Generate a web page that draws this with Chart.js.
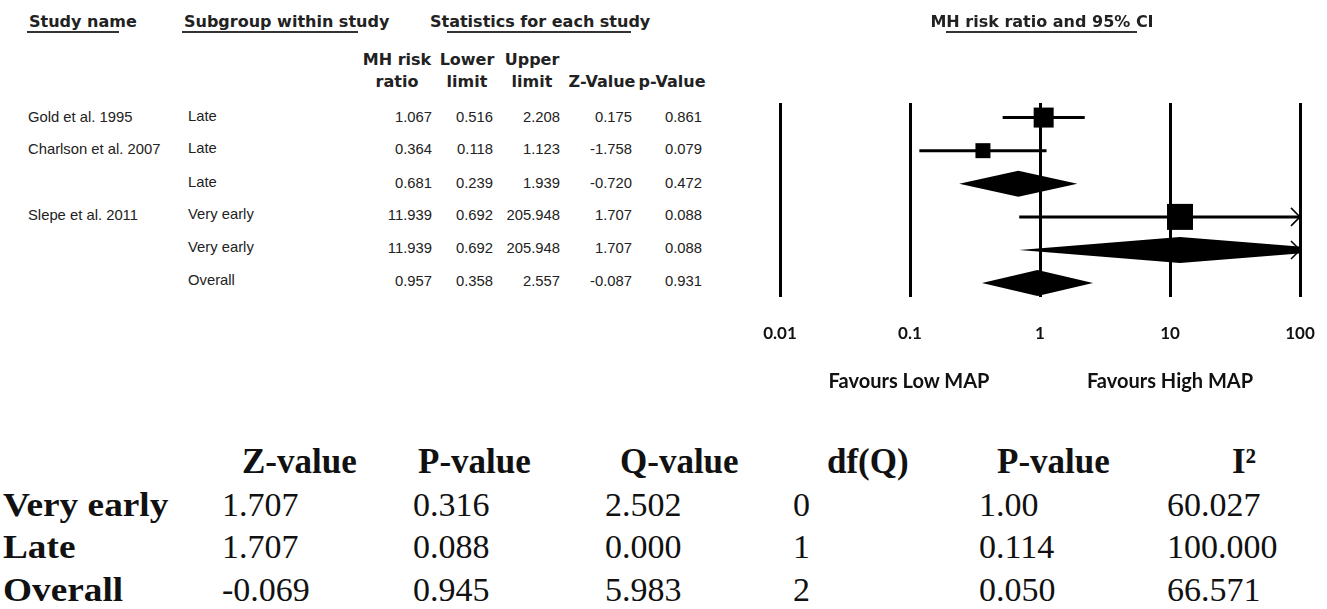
<!DOCTYPE html>
<html lang="en">
	<head>
		<meta charset="UTF-8" />
		<title>MH risk ratio forest plot</title>
		<script src="https://cdn.jsdelivr.net/npm/chart.js@4.4.1/dist/chart.umd.min.js"></script>
		<style>
			html,
			body {
				margin: 0;
				padding: 0;
				background: #fff;
				width: 1327px;
				height: 609px;
				overflow: hidden;
			}
			#page {
				position: relative;
				width: 1327px;
				height: 609px;
			}
			.t {
				position: absolute;
				white-space: nowrap;
				line-height: 1;
				color: #111;
			}
			.hd {
				font: bold 16px "DejaVu Sans", sans-serif;
				color: #222;
			}
			.cell {
				font: 14.8px "Liberation Sans", Arial, sans-serif;
				color: #222;
			}
			.fav {
				font: bold 20px Lato, "Open Sans", sans-serif;
				color: #111;
			}
			.bh {
				font: bold 35px "Liberation Serif", "Times New Roman", serif;
			}
			.bl {
				font: bold 33px "Liberation Serif", "Times New Roman", serif;
			}
			.bv {
				font: 34px "Liberation Serif", "Times New Roman", serif;
			}
			.uline {
				position: absolute;
				height: 2px;
				background: #333;
			}
			#plotBox {
				position: absolute;
				left: 740px;
				top: 0;
				width: 587px;
				height: 420px;
			}
		</style>
	</head>
	<body>
		<div id="page">
			<div id="plotBox"><canvas id="forest"></canvas></div>
		</div>
		<script>
			// study rows (top to bottom)
			const studyNames = ["Gold et al. 1995", "Charlson et al. 2007", "", "Slepe et al. 2011", "", ""];
			const subgroups = ["Late", "Late", "Late", "Very early", "Very early", "Overall"];
			const riskRatio = [1.067, 0.364, 0.681, 11.939, 11.939, 0.957];
			const lowerLimit = [0.516, 0.118, 0.239, 0.692, 0.692, 0.358];
			const upperLimit = [2.208, 1.123, 1.939, 205.948, 205.948, 2.557];
			const zValues = ["0.175", "-1.758", "-0.720", "1.707", "1.707", "-0.087"];
			const pValues = ["0.861", "0.079", "0.472", "0.088", "0.088", "0.931"];
			const isSummary = [false, false, true, false, true, true];
			const axisTicks = [0.01, 0.1, 1, 10, 100];

			// heterogeneity table
			const hetGroups = ["Very early", "Late", "Overall"];
			const hetHeaders = ["Z-value", "P-value", "Q-value", "df(Q)", "P-value", "I²"];
			const hetZ = ["1.707", "1.707", "-0.069"];
			const hetP = ["0.316", "0.088", "0.945"];
			const hetQ = ["2.502", "0.000", "5.983"];
			const hetDf = ["0", "1", "2"];
			const hetPQ = ["1.00", "0.114", "0.050"];
			const hetI2 = ["60.027", "100.000", "66.571"];

			// layout (pixels)
			const boxSide = [20, 15, 0, 26, 0, 0];
			const diamondHalf = 13;
			const tableRowY = [117, 149, 183, 215, 248, 281];
			const colRight = [432, 493, 560, 632, 702];
			const colHeadCenter = [397, 467, 532, 602, 672];
			const hetHeadX = [242, 418, 620, 827, 997, 1232];
			const hetValX = [222, 413, 605, 793, 979, 1167];
			const hetRowY = [505, 547, 590];

			const page = document.getElementById("page");

			function put(text, x, y, cls, align, stretch) {
				const el = document.createElement("div");
				el.className = "t " + cls;
				el.textContent = text;
				el.style.left = x + "px";
				el.style.top = y + "px";
				let tx = "0";
				let origin = "left";
				if (align === "c") {
					tx = "-50%";
					origin = "center";
				}
				if (align === "r") {
					tx = "-100%";
					origin = "right";
				}
				el.style.transformOrigin = origin + " center";
				el.style.transform =
					"translate(" + tx + ", -50%)" + (stretch ? " scaleX(" + stretch + ")" : "");
				page.appendChild(el);
				return el;
			}

			function underline(x1, x2, y) {
				const el = document.createElement("div");
				el.className = "uline";
				el.style.left = x1 + "px";
				el.style.top = y + "px";
				el.style.width = x2 - x1 + "px";
				page.appendChild(el);
			}

			// top headers
			put("Study name", 29, 21, "hd", "l");
			underline(27, 119, 31);
			put("Subgroup within study", 184, 21, "hd", "l");
			underline(182, 358, 31);
			put("Statistics for each study", 430, 21, "hd", "l");
			underline(447, 631, 31);
			put("MH risk ratio and 95% CI", 1042, 21, "hd", "c");
			underline(946, 1137, 31);

			const headTop = ["MH risk", "Lower", "Upper", "", ""];
			const headBottom = ["ratio", "limit", "limit", "Z-Value", "p-Value"];
			headTop.forEach((h, i) => {
				if (h) put(h, colHeadCenter[i], 59, "hd", "c");
				put(headBottom[i], colHeadCenter[i], 81, "hd", "c");
			});

			subgroups.forEach((g, i) => {
				const y = tableRowY[i];
				if (studyNames[i]) put(studyNames[i], 28, y, "cell", "l");
				put(g, 188, y - 1, "cell", "l");
				put(riskRatio[i].toFixed(3), colRight[0], y, "cell", "r");
				put(lowerLimit[i].toFixed(3), colRight[1], y, "cell", "r");
				put(upperLimit[i].toFixed(3), colRight[2], y, "cell", "r");
				put(zValues[i], colRight[3], y, "cell", "r");
				put(pValues[i], colRight[4], y, "cell", "r");
			});

			put("Favours Low MAP", 909, 380, "fav", "c");
			put("Favours High MAP", 1170, 380, "fav", "c");

			// heterogeneity table
			hetHeaders.forEach((h, i) => put(h, hetHeadX[i], 462, "bh", "l"));
			const hetCols = [hetZ, hetP, hetQ, hetDf, hetPQ, hetI2];
			hetGroups.forEach((g, r) => {
				put(g, 3, hetRowY[r], "bl", "l", 1.13);
				hetCols.forEach((col, c) => put(col[r], hetValX[c], hetRowY[r], "bv", "l"));
			});

			// CI whiskers, diamonds and clipping arrows
			const forestMarks = {
				id: "forestMarks",
				beforeDatasetsDraw(chart) {
					const { ctx, chartArea: a, scales } = chart;
					const xs = scales.x;
					const ys = scales.y;
					ctx.save();
					ctx.beginPath();
					ctx.rect(a.left - 2, 0, a.right - a.left + 4, chart.height);
					ctx.clip();
					ctx.fillStyle = "#000";
					ctx.strokeStyle = "#000";
					riskRatio.forEach((rr, i) => {
						const py = ys.getPixelForValue(i + 1);
						const pl = xs.getPixelForValue(lowerLimit[i]);
						const pe = xs.getPixelForValue(rr);
						const ph = xs.getPixelForValue(upperLimit[i]);
						if (isSummary[i]) {
							ctx.beginPath();
							ctx.moveTo(pl, py);
							ctx.lineTo(pe, py - diamondHalf);
							ctx.lineTo(ph, py);
							ctx.lineTo(pe, py + diamondHalf);
							ctx.closePath();
							ctx.fill();
						} else {
							ctx.lineWidth = 3;
							ctx.beginPath();
							ctx.moveTo(pl, py);
							ctx.lineTo(Math.min(ph, a.right), py);
							ctx.stroke();
						}
						if (ph > a.right) {
							ctx.lineWidth = 1.5;
							ctx.beginPath();
							ctx.moveTo(a.right - 9, py - 9);
							ctx.lineTo(a.right, py);
							ctx.lineTo(a.right - 9, py + 9);
							ctx.stroke();
						}
					});
					ctx.restore();
				},
			};

			const boxPoints = [];
			riskRatio.forEach((rr, i) => {
				if (!isSummary[i]) boxPoints.push({ x: rr, y: i + 1, side: boxSide[i] });
			});

			new Chart(document.getElementById("forest"), {
				type: "scatter",
				data: {
					datasets: [
						{
							label: "MH risk ratio",
							data: boxPoints,
							pointStyle: "rect",
							backgroundColor: "#000",
							borderColor: "#000",
							borderWidth: 0,
							pointRadius: (c) => (c.raw ? c.raw.side / Math.SQRT2 : 0),
							pointHoverRadius: (c) => (c.raw ? c.raw.side / Math.SQRT2 : 0),
						},
					],
				},
				options: {
					responsive: true,
					maintainAspectRatio: false,
					animation: false,
					layout: { padding: { left: 40, right: 27, top: 103, bottom: 0 } },
					plugins: {
						legend: { display: false },
						tooltip: { enabled: false },
						title: { display: false },
					},
					scales: {
						x: {
							type: "logarithmic",
							min: 0.01,
							max: 100,
							afterBuildTicks: (s) => {
								s.ticks = axisTicks.map((v) => ({ value: v }));
							},
							afterFit: (s) => {
								s.height = 123;
							},
							ticks: {
								callback: (v) => String(v),
								autoSkip: false,
								maxRotation: 0,
								padding: 0,
								color: "#111",
								font: { family: "Lato", weight: "bold", size: 17 },
							},
							// invisible tick marks push the labels down
							grid: {
								color: "#000",
								lineWidth: 3,
								drawTicks: true,
								tickLength: 26,
								tickColor: "rgba(0,0,0,0)",
							},
							border: { display: false },
						},
						y: {
							type: "linear",
							min: 0.56,
							max: 6.42,
							reverse: true,
							display: false,
						},
					},
				},
				plugins: [forestMarks],
			});
		</script>
	</body>
</html>
